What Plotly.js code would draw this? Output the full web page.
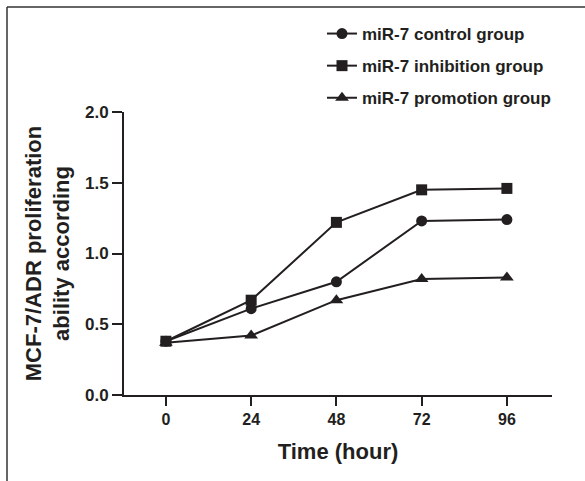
<!DOCTYPE html>
<html>
<head>
<meta charset="utf-8">
<script src="https://cdn.plot.ly/plotly-3.0.1.min.js"></script>
<style>html,body{margin:0;padding:0;background:#fff;}#chart{width:585px;height:481px;}</style>
</head>
<body>
<div id="chart"></div>
<script>
const hours = [0, 24, 48, 72, 96];
const tickLabels = ['0', '24', '48', '72', '96'];
const seriesNames = ['miR-7 control group', 'miR-7 inhibition group', 'miR-7 promotion group'];
const controlValues = [0.38, 0.61, 0.80, 1.23, 1.24];
const inhibitionValues = [0.38, 0.67, 1.22, 1.45, 1.46];
const promotionValues = [0.37, 0.42, 0.67, 0.82, 0.83];

const ink = '#231f20';
const fontFamily = 'Liberation Sans, Arial, Helvetica, sans-serif';

function makeTrace(name, values, symbol, size, group) {
  return {
    x: hours, y: values, name: name, type: 'scatter', mode: 'lines+markers',
    legendgroup: group,
    line: {color: ink, width: 2},
    marker: {symbol: symbol, size: size, color: ink}
  };
}

const traces = [
  makeTrace(seriesNames[0], controlValues, 'circle', 11, 'g1'),
  makeTrace(seriesNames[2], promotionValues, 'triangle-up', 12, 'g3'),
  makeTrace(seriesNames[1], inhibitionValues, 'square', 11, 'g2')
];
traces[0].legendrank = 1; traces[2].legendrank = 2; traces[1].legendrank = 3;

const W = 585, H = 481, ml = 124, mr = 33, mt = 112, mb = 86;
const pw = W - ml - mr, ph = H - mt - mb;
function px(x) { return (x - ml) / pw; }
function py(y) { return (H - mb - y) / ph; }

const layout = {
  width: W, height: H,
  margin: {l: ml, r: mr, t: mt, b: mb, pad: 0},
  paper_bgcolor: '#ffffff', plot_bgcolor: '#ffffff',
  font: {family: fontFamily, color: ink, size: 16, weight: 'bold'},
  showlegend: true,
  legend: {
    x: px(322), y: py(16), xanchor: 'left', yanchor: 'top',
    font: {family: fontFamily, size: 17, color: ink, weight: 'bold'},
    tracegroupgap: 7, bgcolor: 'rgba(0,0,0,0)', borderwidth: 0,
    itemsizing: 'trace'
  },
  xaxis: {
    range: [-11.8, 108.7], tickmode: 'array', tickvals: hours, ticktext: tickLabels,
    showline: true, linecolor: ink, linewidth: 2, ticks: 'outside', ticklen: 9, tickwidth: 2, tickcolor: ink,
    showgrid: false, zeroline: false,
    tickfont: {family: fontFamily, size: 16, color: ink, weight: 'bold'},
    title: {text: 'Time (hour)', font: {family: fontFamily, size: 22, color: ink, weight: 'bold'}, standoff: 16}
  },
  yaxis: {
    range: [0, 2], tickmode: 'array', tickvals: [0, 0.5, 1.0, 1.5, 2.0], ticktext: ['0.0', '0.5', '1.0', '1.5', '2.0'],
    showline: true, linecolor: ink, linewidth: 2, ticks: 'outside', ticklen: 10, tickwidth: 2, tickcolor: ink,
    showgrid: false, zeroline: false,
    tickfont: {family: fontFamily, size: 17, color: ink, weight: 'bold'},
    title: {text: 'MCF-7/ADR proliferation<br>ability according', font: {family: fontFamily, size: 22, color: ink, weight: 'bold'}, standoff: 9}
  },
  shapes: [
    {type: 'line', xref: 'paper', yref: 'paper', x0: px(7), x1: px(590), y0: py(7), y1: py(7), line: {color: '#333', width: 1.5}},
    {type: 'line', xref: 'paper', yref: 'paper', x0: px(7), x1: px(7), y0: py(7), y1: py(490), line: {color: '#333', width: 1.5}}
  ]
};

Plotly.newPlot('chart', traces, layout, {displayModeBar: false, staticPlot: true});
</script>
</body>
</html>
